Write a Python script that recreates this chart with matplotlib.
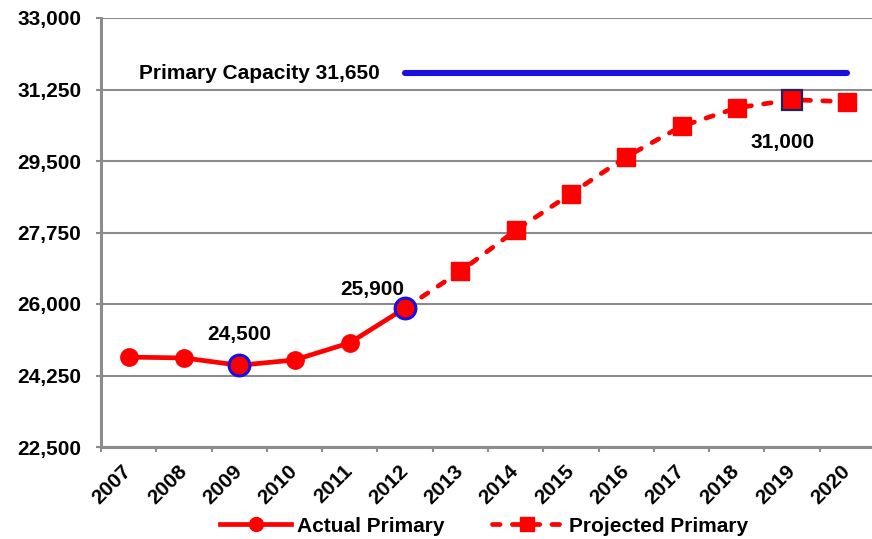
import matplotlib
matplotlib.use("Agg")
import matplotlib.pyplot as plt
import matplotlib.transforms as mtransforms
from matplotlib.ticker import FuncFormatter, FixedLocator
from matplotlib.lines import Line2D

plt.rcParams['font.family'] = ['Liberation Sans', 'DejaVu Sans']
plt.rcParams['font.weight'] = 'bold'

years = ["2007", "2008", "2009", "2010", "2011", "2012", "2013",
         "2014", "2015", "2016", "2017", "2018", "2019", "2020"]
actual_years = years[:6]
actual_values = [24700, 24680, 24500, 24630, 25050, 25900]
projected_years = years[5:]
projected_values = [25900, 26800, 27800, 28700, 29600, 30350, 30800, 31000, 30950]
capacity_value = 31650
capacity_span = ["2012", "2020"]
y_ticks = [22500, 24250, 26000, 27750, 29500, 31250, 33000]

RED = "#ff0000"
BLUE = "#1a10e0"
GRID = "#8c8c8c"
FS = 15

fig = plt.figure(figsize=(8.72, 5.39), dpi=100)
ax = fig.add_axes([101 / 872, 1 - 447 / 539, 774 / 872, (447 - 18) / 539])

xi = {y: i for i, y in enumerate(years)}
ax_x = [xi[y] for y in actual_years]
px_x = [xi[y] for y in projected_years]

# Capacity line
ax.plot([xi[capacity_span[0]], xi[capacity_span[1]]], [capacity_value] * 2,
        color=BLUE, lw=4.4, solid_capstyle='round', zorder=3)
ax.text(xi[capacity_span[0]] - 0.45, capacity_value,
        f"Primary Capacity {capacity_value:,}", ha='right', va='center',
        fontsize=FS, fontweight='bold', color='black')

# Projected (dashed) series, starting from the last actual year
proj_line, = ax.plot(px_x, projected_values, color=RED, lw=3.4,
                     dashes=(1.6, 2.6), dash_capstyle='round',
                     marker='s', markersize=12.5, markerfacecolor=RED,
                     markeredgecolor=RED, markevery=list(range(1, len(px_x))),
                     zorder=4)

# Actual (solid) series
act_line, = ax.plot(ax_x, actual_values, color=RED, lw=3.4,
                    marker='o', markersize=12.5, markerfacecolor=RED,
                    markeredgecolor=RED, zorder=5)

# Highlighted points
for yr in ["2009", "2012"]:
    v = actual_values[actual_years.index(yr)]
    ax.plot([xi[yr]], [v], marker='o', markersize=15, markerfacecolor=RED,
            markeredgecolor=BLUE, markeredgewidth=2.2, zorder=6)
v19 = projected_values[projected_years.index("2019")]
ax.plot([xi["2019"]], [v19], marker='s', markersize=15, markerfacecolor=RED,
        markeredgecolor="#1a2560", markeredgewidth=1.6, zorder=6)

# Value labels
ax.text(xi["2009"], actual_values[2] + 750, f"{actual_values[2]:,}",
        ha='center', va='center', fontsize=FS, fontweight='bold')
ax.text(xi["2012"] - 0.6, actual_values[5] + 450, f"{actual_values[5]:,}",
        ha='center', va='center', fontsize=FS, fontweight='bold')
ax.text(xi["2019"] - 0.17, v19 - 1050, f"{v19:,}",
        ha='center', va='center', fontsize=FS, fontweight='bold')

# Axes styling
ax.set_xlim(-0.5, len(years) - 0.5)
ax.set_ylim(y_ticks[0], y_ticks[-1])
ax.yaxis.set_major_locator(FixedLocator(y_ticks))
ax.yaxis.set_major_formatter(FuncFormatter(lambda v, p: f"{int(v):,}"))
ax.grid(axis='y', color=GRID, lw=1.5)
ax.set_axisbelow(True)
for s in ['top', 'right', 'bottom']:
    ax.spines[s].set_visible(False)
ax.spines['left'].set_color(GRID)
ax.spines['left'].set_linewidth(2.2)

ax.set_xticks(range(len(years)))
ax.set_xticklabels(years, rotation=45, ha='right', va='center',
                   rotation_mode='anchor', fontsize=FS, fontweight='bold')
shift = mtransforms.ScaledTranslation(3 / 100, 0, fig.dpi_scale_trans)
for lab in ax.get_xticklabels():
    lab.set_transform(lab.get_transform() + shift)
ax.tick_params(axis='x', length=0, pad=15)
ax.set_xticks([i - 0.5 for i in range(len(years) + 1)], minor=True)
ax.tick_params(axis='x', which='minor', length=3.6, width=1.5, color=GRID)
ax.axhline(y_ticks[0], color=GRID, lw=2.2, zorder=2, clip_on=False)
ax.tick_params(axis='y', length=3.6, width=1.5, color=GRID, pad=10.5,
               labelsize=FS)
for lab in ax.get_yticklabels():
    lab.set_fontweight('bold')

# Legend
h1 = Line2D([], [], color=RED, lw=3.4, marker='o', markersize=10)
h2 = Line2D([], [], color=RED, lw=3.4, dashes=(1.6, 2.6), dash_capstyle='round',
            marker='s', markersize=10)
fig.legend([h1, h2], ["Actual Primary", "Projected Primary"],
           loc='center', bbox_to_anchor=(0.555, 1 - 526 / 539), ncol=2,
           frameon=False, handlelength=3.4, handletextpad=0.3,
           columnspacing=2.25, prop={'weight': 'bold', 'size': FS})

fig.savefig("out.png", dpi=100)
